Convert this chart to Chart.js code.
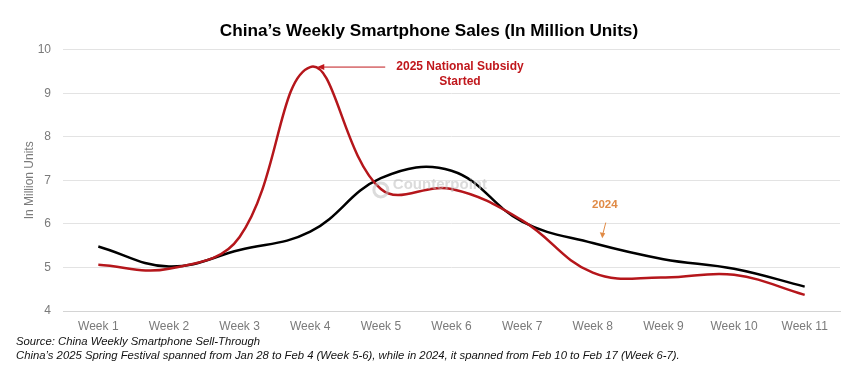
<!DOCTYPE html>
<html>
<head>
<meta charset="utf-8">
<script src="https://cdn.jsdelivr.net/npm/chart.js@4"></script>
<style>
  html,body{margin:0;padding:0;background:#fff;}
  #wrap{width:857px;height:375px;position:relative;}
</style>
</head>
<body>
<div id="wrap"><canvas id="myChart"></canvas></div>
<script>
var weeks=['Week 1','Week 2','Week 3','Week 4','Week 5','Week 6','Week 7','Week 8','Week 9','Week 10','Week 11'];
var sales2025=[5.06,4.97,5.7,9.6,6.8,6.8,6.08,4.88,4.77,4.83,4.37];
var sales2024=[5.48,5.02,5.4,5.82,7.05,7.22,6.05,5.56,5.19,4.97,4.56];
var yTicks=[4,5,6,7,8,9,10];

// annotation arrows, notes and footnote text
var notes={
  id:'notes',
  afterDatasetsDraw:function(chart){
    var c=chart.ctx, x=chart.scales.x, y=chart.scales.y;
    c.save();
    // watermark
    c.fillStyle='rgba(190,190,190,0.55)';
    c.font='bold 15px "Liberation Sans", Arial, sans-serif';
    c.textAlign='left';c.textBaseline='middle';
    c.fillText('Counterpoint',x.getPixelForValue(4.17),y.getPixelForValue(6.9));
    c.strokeStyle='rgba(190,190,190,0.55)';c.lineWidth=3;
    c.beginPath();c.arc(x.getPixelForValue(4.0),y.getPixelForValue(6.78),7,0,Math.PI*2);c.stroke();

    // subsidy note
    var red='#c0171c';
    var px=x.getPixelForValue(3)+7, py=y.getPixelForValue(9.6);
    c.strokeStyle=red;c.fillStyle=red;c.lineWidth=1;
    c.beginPath();c.moveTo(px+68,py);c.lineTo(px+4,py);c.stroke();
    c.beginPath();c.moveTo(px,py);c.lineTo(px+7,py-3);c.lineTo(px+7,py+3);c.closePath();c.fill();
    c.font='bold 12px "Liberation Sans", Arial, sans-serif';
    c.textAlign='center';c.textBaseline='middle';
    var tx=x.getPixelForValue(5.12);
    c.fillText('2025 National Subsidy',tx,py);
    c.fillText('Started',tx,py+14.5);

    // 2024 note
    var orange='#e08a45';
    var ox=x.getPixelForValue(7.17);
    c.fillStyle=orange;c.strokeStyle=orange;
    c.font='bold 11.5px "Liberation Sans", Arial, sans-serif';
    c.fillText('2024',ox,y.getPixelForValue(6.43));
    var ay1=y.getPixelForValue(6.03), ay2=y.getPixelForValue(5.67);
    c.beginPath();c.moveTo(ox+1,ay1);c.lineTo(ox-2,ay2-4);c.stroke();
    c.beginPath();c.moveTo(ox-2.5,ay2);c.lineTo(ox-5,ay2-6);c.lineTo(ox+0.5,ay2-5);c.closePath();c.fill();

    // footnotes
    c.fillStyle='#111';
    c.font='italic 11.3px "Liberation Sans", Arial, sans-serif';
    c.textAlign='left';c.textBaseline='middle';
    c.fillText('Source: China Weekly Smartphone Sell-Through',16,342);
    c.fillText('China\u2019s 2025 Spring Festival spanned from Jan 28 to Feb 4 (Week 5-6), while in 2024, it spanned from Feb 10 to Feb 17 (Week 6-7).',16,356);
    c.restore();
  }
};

var ctx=document.querySelector("#myChart").getContext("2d");
var myChart=new Chart(ctx,{
    type:'line',
    data:{
        labels:weeks,
        datasets:[{
          label:'2025',
          data:sales2025,
          borderColor:'#b5161b',
          borderWidth:2.5,
          pointRadius:0,
          tension:0.4,
        },
        {
          label:'2024',
          data:sales2024,
          borderColor:'#000000',
          borderWidth:2.5,
          pointRadius:0,
          tension:0.4,
        },
      ],
    },
    options:{
        responsive:true,
        maintainAspectRatio:false,
        animation:false,
        layout:{
          padding:{left:18,right:17,top:0,bottom:34}
        },
        scales:{
          x:{
            offset:true,
            grid:{display:false,drawTicks:false},
            border:{color:'#d4d4d4'},
            ticks:{color:'#7a7a7a',padding:8,maxRotation:0,autoSkip:false,
              font:{family:'"Liberation Sans", Arial, sans-serif',size:12}},
            afterFit:function(s){s.height=30;}
          },
          y:{
            min:4,max:10,
            afterBuildTicks:function(s){s.ticks=yTicks.map(function(v){return {value:v};});},
            grid:{color:'#e3e3e3',drawTicks:false},
            border:{display:false},
            ticks:{color:'#7a7a7a',padding:12,
              font:{family:'"Liberation Sans", Arial, sans-serif',size:12}},
            title:{display:true,text:'In Million Units',color:'#7a7a7a',
              font:{family:'"Liberation Sans", Arial, sans-serif',size:12}},
            afterFit:function(s){s.width=45;}
          }
        },
        plugins:{
          legend:{display:false},
          tooltip:{enabled:false},
          title:{
            display:true,
            text:'China\u2019s Weekly Smartphone Sales (In Million Units)',
            color:'#000',
            padding:{top:21,bottom:8},
            font:{family:'"Liberation Sans", Arial, sans-serif',size:17.2,weight:'bold'}
          }
        }
      },
    plugins:[notes]
});
</script>
</body>
</html>
